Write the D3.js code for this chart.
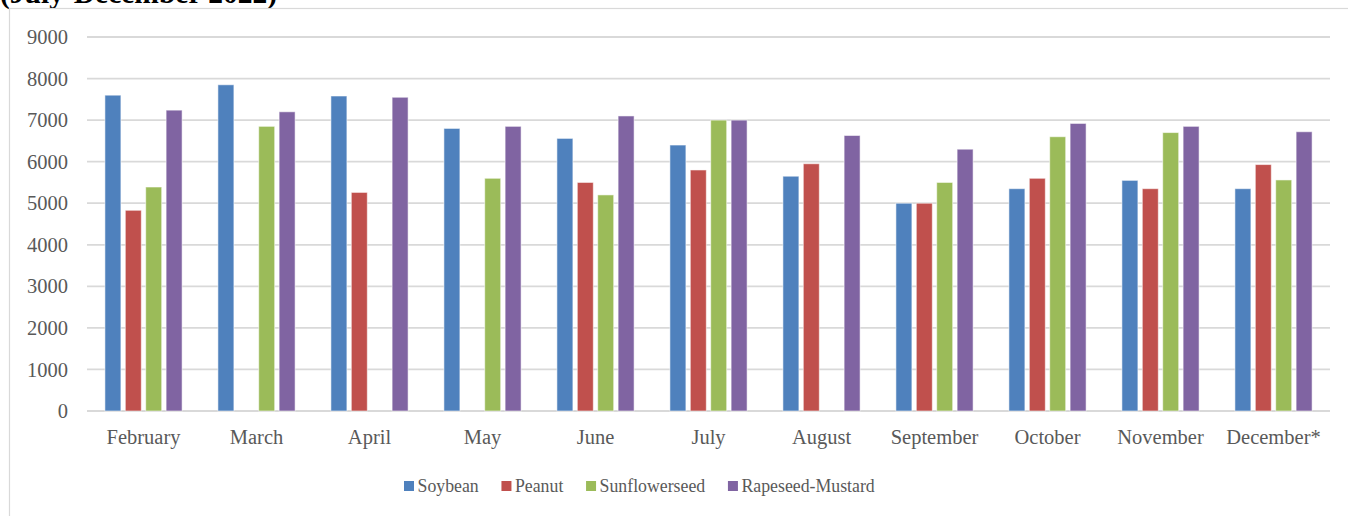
<!DOCTYPE html>
<html>
<head>
<meta charset="utf-8">
<script src="https://cdn.jsdelivr.net/npm/d3@7"></script>
<style>
  html, body { margin: 0; padding: 0; background: #fff; overflow: hidden; }
  svg { display: block; }
  svg text { font-family: "Liberation Serif", "Times New Roman", serif !important; fill: #595959; }
</style>
</head>
<body>
<svg id="chart" width="1348" height="516"></svg>
<script>
// Monthly oilseed prices by crop
const months = ["February", "March", "April", "May", "June", "July", "August",
                "September", "October", "November", "December*"];
const seriesNames = ["Soybean", "Peanut", "Sunflowerseed", "Rapeseed-Mustard"];
const soybean   = [7600, 7850, 7580, 6800, 6560, 6400, 5650, 5000, 5350, 5550, 5350];
const peanut    = [4830, null, 5260, null, 5500, 5800, 5950, 5000, 5600, 5350, 5930];
const sunflower = [5390, 6850, null, 5600, 5200, 7000, null, 5500, 6600, 6700, 5560];
const rapeseed  = [7240, 7200, 7550, 6850, 7100, 7000, 6630, 6300, 6920, 6850, 6720];
const yTicks = [0, 1000, 2000, 3000, 4000, 5000, 6000, 7000, 8000, 9000];
const colors = ["#4f81bd", "#c0504d", "#9bbb59", "#8064a2"];

const seriesValues = [soybean, peanut, sunflower, rapeseed];
const SERIF = '"Liberation Serif", "Times New Roman", serif';

const svg = d3.select("#chart");

// Title (partly above the visible area)
svg.append("text")
  .attr("x", 0).attr("y", 3)
  .style("font-family", SERIF)
  .style("font-size", "29.5px").style("font-weight", "bold").style("fill", "#000")
  .text("(July-December 2022)");

// Chart area border
svg.append("rect")
  .attr("x", 9.5).attr("y", 8.5).attr("width", 1360).attr("height", 520)
  .attr("fill", "none").attr("stroke", "#d9d9d9").attr("stroke-width", 1.2);

const x0 = d3.scaleBand().domain(months).range([87, 1330]);
const x1 = d3.scaleBand().domain(seriesNames)
  .range([0, x0.bandwidth()]).paddingInner(0.216).paddingOuter(0.878);
const y = d3.scaleLinear().domain([0, 9000]).range([411, 37]);

// Horizontal gridlines
svg.append("g").selectAll("line").data(yTicks).join("line")
  .attr("x1", 87).attr("x2", 1330)
  .attr("y1", d => y(d)).attr("y2", d => y(d))
  .attr("stroke", "#d9d9d9").attr("stroke-width", 1.8);

// Y axis labels
const yAxis = d3.axisLeft(y).tickValues(yTicks).tickSize(0).tickPadding(0).tickFormat(d3.format("d"));
const gy = svg.append("g").attr("transform", "translate(68,0)").call(yAxis)
  .attr("font-family", SERIF);
gy.select(".domain").remove();
gy.selectAll("text").style("font-family", SERIF).style("font-size", "20.5px").style("fill", "#595959");

// Bars
const rows = [];
months.forEach((m, i) => {
  seriesNames.forEach((s, j) => {
    const v = seriesValues[j][i];
    if (v != null) rows.push({ m, s, v, c: colors[j] });
  });
});
svg.append("g").selectAll("rect").data(rows).join("rect")
  .attr("x", d => x0(d.m) + x1(d.s))
  .attr("y", d => y(d.v))
  .attr("width", x1.bandwidth())
  .attr("height", d => y(0) - y(d.v))
  .attr("fill", d => d.c)
  .attr("stroke", "rgba(255,255,255,0.55)")
  .attr("stroke-width", 1);

// X axis labels
const xAxis = d3.axisBottom(x0).tickSize(0).tickPadding(0);
const gx = svg.append("g").attr("transform", "translate(0,429)").call(xAxis)
  .attr("font-family", SERIF);
gx.select(".domain").remove();
gx.selectAll("text").attr("dy", "0.71em")
  .style("font-family", SERIF).style("font-size", "20.5px").style("fill", "#595959");

// Legend
const legend = svg.append("g").attr("transform", "translate(404,0)");
let lx = 0;
seriesNames.forEach((s, j) => {
  legend.append("rect").attr("x", lx).attr("y", 481).attr("width", 10).attr("height", 10)
    .attr("fill", colors[j]);
  const t = legend.append("text").attr("x", lx + 13.5).attr("y", 492)
    .style("font-family", SERIF).style("font-size", "17.8px").text(s);
  lx += 13.5 + t.node().getComputedTextLength() + 22.7;
});
</script>
</body>
</html>
